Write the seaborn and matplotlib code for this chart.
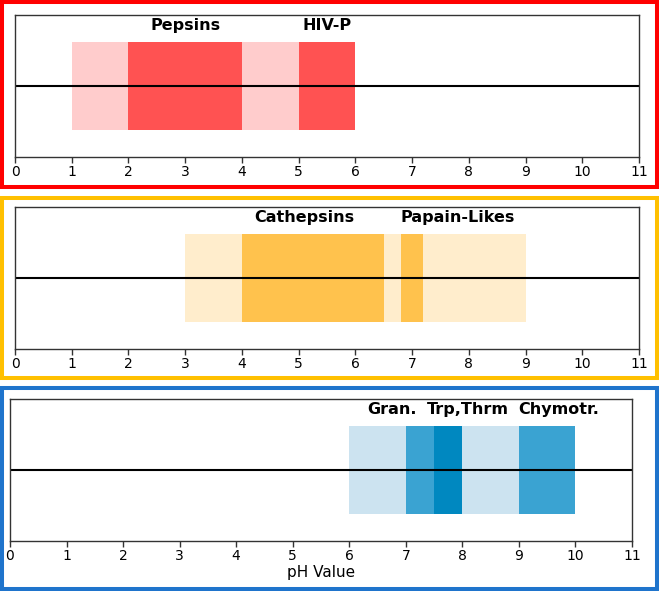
import matplotlib
matplotlib.use("Agg")
import matplotlib.pyplot as plt
import matplotlib.patches as patches
import seaborn as sns

# Bereiche (pH) je Enzymgruppe
pepsin_light = [(1, 6)]
pepsin_dark = [(2, 4), (5, 6)]
pepsin_labels = ["Pepsins", "HIV-P"]
pepsin_label_x = [3, 5.5]

cathepsin_light = [(3, 9)]
cathepsin_dark = [(4, 6.5), (6.8, 7.2)]
cathepsin_labels = ["Cathepsins", "Papain-Likes"]
cathepsin_label_x = [5.1, 7.8]

serine_light = [(6, 10)]
serine_mid = [(7, 8), (9, 10)]
serine_dark = [(7.5, 8)]
serine_labels = ["Gran.", "Trp,Thrm", "Chymotr."]
serine_label_x = [6.75, 8.1, 9.7]

ticks = list(range(0, 12))

sns.set_theme(style="white")
plt.rcParams['font.family'] = ['DejaVu Sans']
plt.rcParams['text.color'] = 'black'
plt.rcParams['axes.labelcolor'] = 'black'
plt.rcParams['xtick.labelcolor'] = 'black'

W, H = 659, 591
fig = plt.figure(figsize=(W / 100, H / 100), dpi=100)


def px_axes(left, right, top, bottom):
    return fig.add_axes([left / W, 1 - bottom / H, (right - left) / W, (bottom - top) / H])


def draw_panel(ax, layers, labels, label_x):
    for spans, color in layers:
        for a, b in spans:
            ax.barh(0, b - a, left=a, height=1.0, color=color, linewidth=0)
    ax.axhline(0, color='black', lw=1.5)
    for lab, x in zip(labels, label_x):
        ax.text(x, 0.6, lab, ha='center', va='bottom', fontsize=11.5, fontweight='bold', color='black')
    ax.set_xlim(0, 11)
    ax.set_ylim(-0.8, 0.8)
    ax.set_xticks(ticks)
    ax.set_yticks([])
    ax.tick_params(axis='x', bottom=True, length=4, width=1, color='#333333',
                   labelsize=10, labelcolor='black', pad=2)
    for s in ax.spines.values():
        s.set_color('#333333')
        s.set_linewidth(1)


ax1 = px_axes(15, 639, 15, 157)
draw_panel(ax1, [(pepsin_light, '#FFCCCC'), (pepsin_dark, '#FF5252')], pepsin_labels, pepsin_label_x)

ax2 = px_axes(15, 639, 207, 349)
draw_panel(ax2, [(cathepsin_light, '#FFEDCC'), (cathepsin_dark, '#FFC24D')], cathepsin_labels, cathepsin_label_x)

ax3 = px_axes(10, 632, 399, 541)
draw_panel(ax3, [(serine_light, '#CCE3F0'), (serine_mid, '#3AA3D2'), (serine_dark, '#0088C0')],
           serine_labels, serine_label_x)
ax3.set_xlabel('pH Value', fontsize=11, labelpad=1, color='black')

# farbige Rahmen um die Panels
frames = [(2, 187, '#FF0000'), (198, 378, '#FFC000'), (388, 589, '#1F74CC')]
for top, bottom, col in frames:
    fig.add_artist(patches.Rectangle((2 / W, 1 - bottom / H), 655 / W, (bottom - top) / H,
                                     transform=fig.transFigure, fill=False, edgecolor=col, lw=2.9))

fig.savefig('out.png', dpi=100)
